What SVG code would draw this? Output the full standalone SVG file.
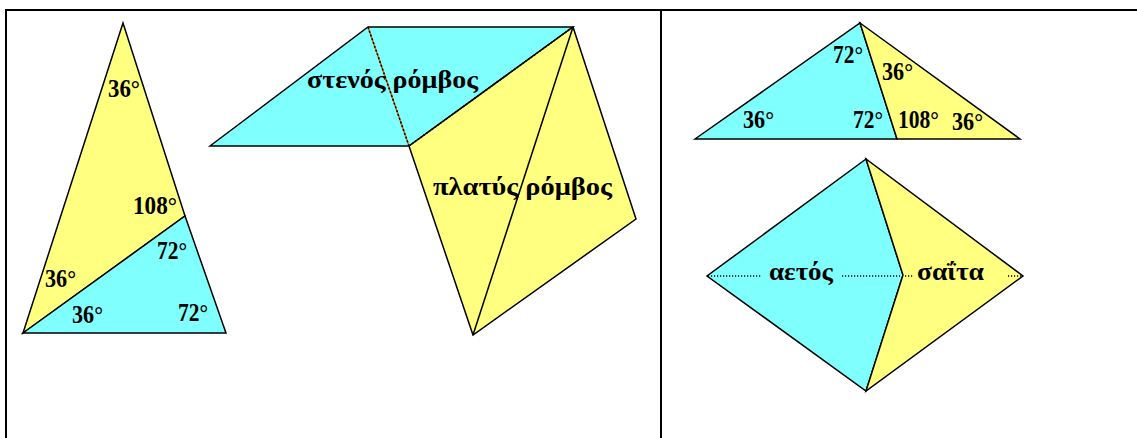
<svg xmlns="http://www.w3.org/2000/svg" width="1137" height="438" viewBox="0 0 1137 438">
<style>
.c{fill:#80FFFF;stroke:#000;stroke-width:1.5;stroke-linejoin:miter}
.y{fill:#FFFF80;stroke:#000;stroke-width:1.5;stroke-linejoin:miter}
.e{fill:none;stroke:#000;stroke-width:1.5}
.t{font-family:"Liberation Serif","DejaVu Serif",serif;font-weight:bold;font-size:25px;fill:#000}
.g{font-family:"Liberation Serif","DejaVu Serif",serif;font-weight:bold;font-size:26px;fill:#000}
.dot{fill:none;stroke:#000;stroke-width:1.3;stroke-dasharray:1.2 1.8}
.frame{fill:none;stroke:#000;stroke-width:2}
</style>
<rect width="1137" height="438" fill="#fff"/>
<g id="frame">
<line class="frame" x1="6" y1="10" x2="1137" y2="10"/>
<line class="frame" x1="6" y1="9" x2="6" y2="438"/>
<line class="frame" x1="661" y1="10" x2="661" y2="438"/>
</g>
<g id="golden-triangle">
<polygon class="y" points="123,23 185,216 23,333"/>
<polygon class="c" points="23,333 185,216 226,333"/>
<text class="t" x="108" y="97" textLength="32" lengthAdjust="spacingAndGlyphs">36°</text>
<text class="t" x="133" y="214" textLength="44" lengthAdjust="spacingAndGlyphs">108°</text>
<text class="t" x="157" y="259" textLength="30" lengthAdjust="spacingAndGlyphs">72°</text>
<text class="t" x="45" y="287" textLength="31" lengthAdjust="spacingAndGlyphs">36°</text>
<text class="t" x="72" y="323" textLength="31" lengthAdjust="spacingAndGlyphs">36°</text>
<text class="t" x="178" y="321" textLength="30" lengthAdjust="spacingAndGlyphs">72°</text>
</g>
<g id="narrow-rhombus">
<polygon class="c" points="210,146 368,27 573,27 409,146"/>
<line x1="368" y1="27" x2="409" y2="146" stroke="#C86400" stroke-width="1.5"/>
<line x1="368" y1="27" x2="409" y2="146" stroke="#000" stroke-width="1.5" stroke-dasharray="2 2"/>
<text class="g" x="307" y="88" textLength="171" lengthAdjust="spacingAndGlyphs">στενός ρόμβος</text>
</g>
<g id="wide-rhombus">
<polygon class="y" points="409,146 573,27 636,219 473,335"/>
<line class="e" x1="573" y1="27" x2="473" y2="335"/>
<line x1="409" y1="146" x2="573" y2="27" stroke="#000" stroke-width="1.5" stroke-dasharray="2 1.5"/>
<text class="g" x="433" y="195" textLength="179" lengthAdjust="spacingAndGlyphs">πλατύς ρόμβος</text>
</g>
<g id="obtuse-triangle">
<polygon class="c" points="695,139 860,23 897,139"/>
<polygon class="y" points="860,23 1020,139 897,139"/>
<text class="t" x="833" y="63" textLength="30" lengthAdjust="spacingAndGlyphs">72°</text>
<text class="t" x="882" y="80" textLength="31" lengthAdjust="spacingAndGlyphs">36°</text>
<text class="t" x="743" y="128" textLength="31" lengthAdjust="spacingAndGlyphs">36°</text>
<text class="t" x="853" y="128" textLength="30" lengthAdjust="spacingAndGlyphs">72°</text>
<text class="t" x="898" y="128" textLength="41" lengthAdjust="spacingAndGlyphs">108°</text>
<text class="t" x="952" y="130" textLength="31" lengthAdjust="spacingAndGlyphs">36°</text>
</g>
<g id="kite">
<polygon class="c" points="866,159 707,276 866,391 903,275"/>
<text class="g" x="769" y="280" textLength="64" lengthAdjust="spacingAndGlyphs">αετός</text>
</g>
<g id="dart">
<polygon class="y" points="866,159 903,275 866,391 1023,276"/>
<text class="g" x="917" y="280" textLength="67" lengthAdjust="spacingAndGlyphs">σαΐτα</text>
</g>
<g id="connectors">
<line class="dot" x1="708" y1="276" x2="762" y2="276"/>
<line class="dot" x1="842" y1="276" x2="900" y2="276"/>
<line class="dot" x1="905" y1="276" x2="913" y2="276"/>
<line class="dot" x1="1008" y1="276" x2="1022" y2="276"/>
</g>
</svg>
